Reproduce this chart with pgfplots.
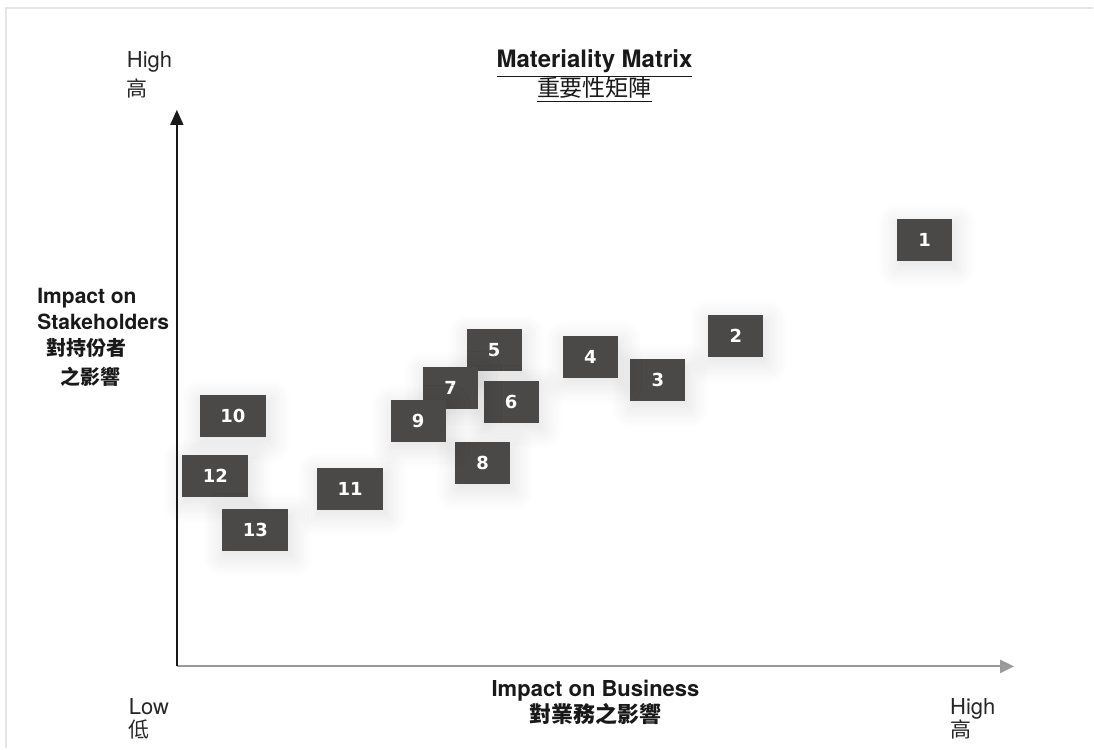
\documentclass[border=0pt]{standalone}
\usepackage{pgfplots}
\pgfplotsset{compat=1.18}
\usepackage{pgfplotstable}
\usetikzlibrary{arrows.meta,shadows.blur}
\usepackage{fontspec}
\setmainfont{TeX Gyre Heros}
\newfontfamily\cjk{Noto Sans CJK TC}
\newfontfamily\numfont{DejaVu Sans}
\definecolor{boxgray}{HTML}{4B4947}
\definecolor{framegray}{HTML}{E6E6E6}
\definecolor{xaxisgray}{HTML}{9A9A9A}

\pgfplotstableread{
x y lab
748.5 427 1
559.5 330.5 2
481.5 286.5 3
414 309.5 4
317.5 316.5 5
334.5 265 6
274 279 7
306 203.5 8
241.5 245.5 9
}\singledigit
\pgfplotstableread{
x y lab
56 251 10
173.5 178 11
38.5 190.5 12
78.5 137 13
}\doubledigit

\begin{document}
\begin{tikzpicture}
\begin{axis}[
  scale only axis, width=547pt, height=374.5pt,
  xmin=-177, xmax=917, ymin=-82, ymax=667,
  hide axis, clip=false,
  boxstyle/.style={
    only marks, mark=none,
    point meta=explicit symbolic,
    nodes near coords,
    nodes near coords align={center},
    every node near coord/.append style={
      anchor=center, fill=boxgray, text=white, inner sep=0pt,
      minimum height=21pt,
      font=\numfont\bfseries\fontsize{9}{10}\selectfont,
      blur shadow={shadow xshift=1pt, shadow yshift=-2.5pt, shadow scale=1.12, shadow blur radius=8pt, shadow opacity=11, shadow blur steps=10},
    },
  },
]
\path (axis cs:-177,-82) rectangle (axis cs:917,667);
% frame
\draw[framegray, line width=1pt] (axis cs:-171,-82) -- (axis cs:-171,659) -- (axis cs:917,659);
% axes arrows
\draw[xaxisgray, line width=1.1pt, -{Triangle[length=7pt,width=6.5pt]}] (axis cs:0,0) -- (axis cs:838,0);
\draw[black!90, line width=0.9pt, -{Triangle[length=7.5pt,width=6.5pt]}] (axis cs:0,0) -- (axis cs:0,557);

\addplot[boxstyle, every node near coord/.append style={minimum width=27.5pt}] table[x=x, y=y, meta=lab] {\singledigit};
\addplot[boxstyle, every node near coord/.append style={minimum width=33pt}] table[x=x, y=y, meta=lab] {\doubledigit};

% labels
\node[anchor=base west, font=\fontsize{11}{13}\selectfont, text=black!85] at (axis cs:-57,599) {High};
\node[anchor=base west, font=\cjk\fontsize{10.5}{13}\selectfont, text=black!85] at (axis cs:-57,570) {高};

\node[anchor=base, font=\bfseries\fontsize{12}{14}\selectfont, text=black!90] at (axis cs:418,599) {\underline{Materiality Matrix}};
\node[anchor=base, font=\cjk\fontsize{11.5}{14}\selectfont, text=black!90] at (axis cs:418,570) {\underline{重要性矩陣}};

\node[anchor=base west, inner sep=0pt, font=\bfseries\fontsize{10.5}{13}\selectfont, text=black!90] at (axis cs:-140,363) {Impact on};
\node[anchor=base west, inner sep=0pt, font=\bfseries\fontsize{10.5}{13}\selectfont, text=black!90] at (axis cs:-140,337) {Stakeholders};
\node[anchor=base, font=\cjk\bfseries\fontsize{10}{13}\selectfont, text=black!90] at (axis cs:-90,311) {對持份者};
\node[anchor=base, font=\cjk\bfseries\fontsize{10}{13}\selectfont, text=black!90] at (axis cs:-86,282) {之影響};

\node[anchor=base west, font=\fontsize{11}{13}\selectfont, text=black!85] at (axis cs:-55,-48) {Low};
\node[anchor=base west, font=\cjk\fontsize{10.5}{13}\selectfont, text=black!85] at (axis cs:-55,-71) {低};

\node[anchor=base, font=\bfseries\fontsize{11}{13}\selectfont, text=black!90] at (axis cs:419,-30) {Impact on Business};
\node[anchor=base, font=\cjk\bfseries\fontsize{11}{13}\selectfont, text=black!90] at (axis cs:419,-56) {對業務之影響};

\node[anchor=base west, font=\fontsize{11}{13}\selectfont, text=black!85] at (axis cs:767,-48) {High};
\node[anchor=base west, font=\cjk\fontsize{10.5}{13}\selectfont, text=black!85] at (axis cs:767,-71) {高};
\end{axis}
\end{tikzpicture}
\end{document}
